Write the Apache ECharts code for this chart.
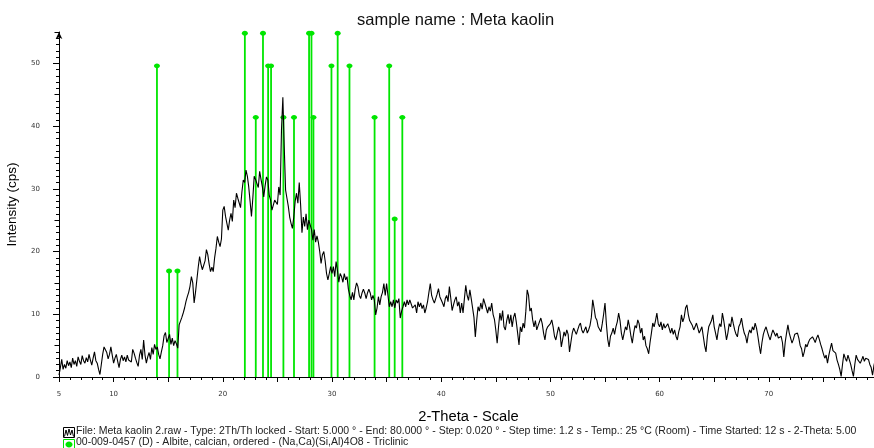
<!DOCTYPE html>
<html>
<head>
<meta charset="utf-8">
<script src="https://cdn.jsdelivr.net/npm/echarts@6/dist/echarts.min.js"></script>
<style>
html,body{margin:0;padding:0;background:#fff;}
#chart{width:874px;height:448px;}
</style>
</head>
<body>
<div id="chart"></div>
<script>
// ---- data ----
const titleText = 'sample name : Meta kaolin';
const xAxisName = '2-Theta - Scale';
const yAxisName = 'Intensity (cps)';
const fileLegend = 'File: Meta kaolin 2.raw - Type: 2Th/Th locked - Start: 5.000 ° - End: 80.000 ° - Step: 0.020 ° - Step time: 1.2 s - Temp.: 25 °C (Room) - Time Started: 12 s - 2-Theta: 5.00';
const refLegend = '00-009-0457 (D) - Albite, calcian, ordered - (Na,Ca)(Si,Al)4O8 - Triclinic';

const twoThetaStart = 5;
const twoThetaStep = 0.125;
// measured intensity (cps), 8 values per degree from 5 to 80 (one row per degree)
const intensity = [
  0.3, 1.5, 2.8, 1.2, 2.0, 1.4, 2.6, 1.8,        // 5
  2.4, 1.5, 3.0, 2.0, 2.6, 1.7, 3.2, 2.5,        // 6
  2.0, 3.4, 2.6, 2.2, 3.1, 2.4, 3.6, 2.7,        // 7
  1.9, 3.0, 4.0, 2.6, 2.2, 1.2, 0.4, 2.0,        // 8
  3.6, 4.8, 5.1, 3.9, 2.9, 3.6, 4.8, 3.5,        // 9
  2.2, 3.0, 3.6, 2.5, 1.5, 2.8, 3.5, 2.6,        // 10
  3.2, 2.4, 3.5, 2.7, 3.0, 2.4, 4.4, 3.8,        // 11
  3.0, 2.3, 1.7, 3.5, 4.4, 2.8, 5.9, 3.5,        // 12
  2.2, 3.2, 3.9, 2.8, 4.7, 3.6, 5.2, 4.4,        // 13
  4.8, 3.6, 2.9, 4.0, 5.0, 6.6, 7.1, 5.5,        // 14
  5.6, 6.8, 5.2, 6.2, 5.0, 5.8, 5.3, 4.6,        // 15
  8.3, 8.0, 9.5, 10.2, 11.0, 12.0, 12.8, 13.5,   // 16
  14.5, 16.0, 15.0, 11.8, 13.5, 15.5, 17.5, 19.2, // 17
  18.0, 17.1, 16.8, 18.5, 20.3, 19.5, 18.0, 16.8, // 18
  17.5, 16.8, 19.0, 20.5, 22.4, 21.5, 20.8, 22.0, // 19
  26.6, 27.2, 25.6, 24.5, 23.4, 25.0, 26.1, 24.8, // 20
  28.2, 27.0, 29.3, 28.5, 28.2, 27.0, 29.5, 31.4, // 21
  31.0, 33.0, 32.0, 30.3, 28.0, 25.6, 28.5, 32.0, // 22
  31.5, 31.4, 30.2, 32.8, 31.5, 30.3, 28.7, 30.5, // 23
  31.9, 31.4, 29.0, 28.2, 26.6, 26.4, 28.2, 28.0, // 24
  27.5, 30.3, 29.0, 39.4, 44.6, 36.8, 29.8, 28.5, // 25
  27.2, 25.5, 24.5, 23.7, 25.5, 28.0, 29.3, 27.7, // 26
  31.0, 27.5, 23.0, 25.5, 24.0, 26.0, 23.5, 25.0, // 27
  25.0, 23.5, 21.8, 23.5, 21.5, 22.5, 21.5, 20.0, // 28
  18.1, 19.5, 20.0, 18.5, 16.5, 15.5, 16.5, 17.6, // 29
  16.5, 17.6, 16.0, 18.4, 17.0, 15.1, 16.5, 16.0, // 30
  15.1, 16.5, 15.5, 16.0, 14.0, 13.0, 12.3, 13.5, // 31
  12.3, 14.0, 15.0, 14.4, 13.0, 12.5, 13.4, 14.0, // 32
  13.4, 12.5, 13.4, 14.0, 13.4, 12.3, 13.0, 12.3, // 33
  9.9, 11.0, 12.8, 11.5, 12.8, 13.5, 14.9, 13.0,  // 34
  14.9, 13.0, 11.2, 12.0, 11.2, 12.3, 11.0, 12.3, // 35
  11.8, 12.5, 9.4, 10.5, 11.2, 12.0, 11.2, 12.3,  // 36
  11.5, 12.3, 12.3, 11.0, 10.9, 11.5, 10.2, 12.0, // 37
  11.2, 11.8, 10.9, 11.5, 10.2, 11.0, 12.0, 13.5, // 38
  14.9, 13.0, 12.3, 11.8, 12.5, 13.2, 14.1, 12.8, // 39
  13.0, 11.8, 11.2, 12.5, 13.0, 12.0, 14.4, 12.6, // 40
  10.6, 11.5, 12.3, 12.8, 11.3, 12.0, 10.2, 11.8, // 41
  10.2, 12.5, 14.6, 13.0, 12.2, 13.9, 12.5, 11.0, // 42
  9.5, 6.4, 9.0, 11.2, 10.5, 11.8, 10.8, 12.5,    // 43
  12.5, 11.0, 10.2, 11.2, 10.5, 11.8, 10.0, 9.2,  // 44
  7.5, 5.4, 8.0, 10.2, 9.0, 10.6, 8.0, 7.5,       // 45
  9.0, 10.0, 8.5, 9.9, 8.0, 9.5, 10.2, 8.8,       // 46
  7.0, 5.1, 8.0, 7.2, 8.6, 7.8, 10.5, 13.9,       // 47
  13.0, 10.5, 11.0, 9.1, 8.0, 9.0, 7.5, 8.2,      // 48
  8.8, 9.4, 8.5, 7.0, 5.9, 7.5, 8.0, 7.8,         // 49
  8.5, 9.1, 8.0, 6.5, 5.9, 7.0, 8.0, 7.2,         // 50
  4.8, 6.0, 7.2, 6.5, 7.5, 6.8, 4.0, 5.5,         // 51
  7.0, 7.8, 8.0, 6.8, 7.5, 8.2, 8.6, 7.5,         // 52
  7.0, 7.2, 8.0, 7.0, 7.5, 8.2, 9.5, 12.3,        // 53
  11.0, 9.5, 9.1, 8.0, 7.8, 7.2, 8.5, 10.0,       // 54
  11.8, 8.5, 6.0, 4.8, 6.5, 7.0, 7.8, 6.8,        // 55
  8.0, 8.8, 10.2, 9.0, 7.0, 5.9, 7.0, 8.0,        // 56
  7.5, 9.1, 8.0, 6.5, 5.4, 7.0, 8.2, 7.8,         // 57
  9.1, 8.5, 7.0, 7.8, 5.9, 6.5, 5.0, 4.5,         // 58
  3.7, 5.5, 7.0, 8.6, 8.0, 9.0, 10.2, 8.5,        // 59
  8.0, 8.8, 7.5, 8.5, 7.8, 8.0, 8.5, 7.8,         // 60
  7.0, 7.8, 6.8, 7.5, 6.5, 5.9, 7.2, 8.0,         // 61
  9.9, 8.8, 9.5, 11.0, 11.5, 10.0, 9.0, 8.6,      // 62
  8.2, 7.5, 8.0, 8.6, 7.8, 7.0, 7.5, 8.0,         // 63
  6.5, 5.0, 4.0, 6.5, 8.0, 8.5, 9.0, 9.9,         // 64
  8.0, 7.0, 5.9, 7.5, 8.5, 8.0, 10.2, 9.0,        // 65
  7.5, 5.9, 7.0, 8.5, 8.0, 9.6, 8.5, 7.5,         // 66
  6.8, 6.4, 8.0, 8.5, 9.4, 8.0, 7.0, 6.5,         // 67
  5.4, 6.8, 7.5, 7.0, 8.0, 7.5, 8.6, 7.8,         // 68
  6.5, 5.0, 3.7, 5.5, 6.8, 7.5, 8.0, 7.2,         // 69
  6.5, 5.9, 6.8, 7.5, 7.0, 6.5, 7.0, 6.2,         // 70
  5.9, 6.5, 5.5, 3.2, 5.5, 7.0, 8.3, 7.0,         // 71
  6.2, 5.4, 6.0, 6.8, 6.5, 7.0, 6.2, 5.0,         // 72
  4.5, 3.2, 4.0, 5.2, 4.8, 5.5, 6.0, 5.8,         // 73
  6.4, 6.0, 5.5, 6.2, 6.7, 6.0, 5.2, 4.5,         // 74
  3.7, 3.0, 3.5, 2.2, 3.5, 4.5, 5.4, 4.2,         // 75
  4.5, 3.8, 2.7, 2.0, 1.2, 0.1, 2.0, 3.7,         // 76
  3.0, 2.5, 3.5, 3.2, 2.0, 1.0, 0.1, 2.0,         // 77
  3.5, 2.8, 3.0, 2.2, 2.7, 3.3, 2.5, 3.0,         // 78
  3.2, 2.8, 2.0, 1.5, 0.3, 1.8, 2.8, 2.2,         // 79
  2.0                                             // 80
];

// reference pattern 00-009-0457 stick positions (deg) and heights (cps)
const refAngles  = [13.97, 15.08, 15.85, 22.02, 23.02, 23.68, 24.15, 24.42, 25.55, 26.52,
                    27.9, 28.12, 28.3, 29.95, 30.52, 31.6, 33.9, 35.24, 35.74, 36.44];
const refHeights = [49.6, 16.9, 16.9, 54.8, 41.4, 54.8, 49.6, 49.6, 41.4, 41.4,
                    54.8, 54.8, 41.4, 49.6, 54.8, 49.6, 41.4, 49.6, 25.2, 41.4];

const xTickLabels = [5, 10, 20, 30, 40, 50, 60, 70, 80];
const yTickLabels = [0, 10, 20, 30, 40, 50];

// ---- chart ----
const green = '#00e600';
const font = 'Liberation Sans, Arial, sans-serif';
const curve = intensity.map((v, i) => [twoThetaStart + i * twoThetaStep, v]);
const sticks = refAngles.map((a, i) => [a, refHeights[i]]);

const chart = echarts.init(document.getElementById('chart'), null, {renderer: 'canvas'});

const tickStyle = {color: '#000', width: 1};
const option = {
  animation: false,
  backgroundColor: '#fff',
  title: {
    text: titleText, left: 357, top: 12, padding: 0,
    textStyle: {fontFamily: font, fontSize: 16.5, fontWeight: 'normal', color: '#111'}
  },
  grid: {left: 59, right: -4, top: 32, bottom: 71, containLabel: false, outerBoundsMode: 'none'},
  xAxis: [{
    type: 'value', min: 5, max: 80, interval: 5,
    axisLine: {lineStyle: tickStyle},
    axisTick: {length: 5, lineStyle: tickStyle},
    minorTick: {show: true, splitNumber: 5, length: 3, lineStyle: tickStyle},
    splitLine: {show: false},
    axisLabel: {
      fontFamily: 'DejaVu Sans, sans-serif', fontSize: 7, color: '#333', margin: 14,
      formatter: v => (xTickLabels.indexOf(v) >= 0 ? String(v) : '')
    },
    name: xAxisName, nameLocation: 'middle', nameGap: 32,
    nameTextStyle: {fontFamily: font, fontSize: 14.7, color: '#000'}
  }],
  yAxis: [{
    type: 'value', min: 0, max: 55, interval: 10,
    axisLine: {show: true, lineStyle: tickStyle, symbol: ['none', 'arrow'], symbolSize: [5, 7]},
    axisTick: {length: 6, lineStyle: tickStyle},
    splitLine: {show: false},
    axisLabel: {
      fontFamily: 'DejaVu Sans, sans-serif', fontSize: 7, color: '#333', margin: 19,
      showMaxLabel: false,
      formatter: v => (yTickLabels.indexOf(v) >= 0 ? String(v) : '')
    },
    name: yAxisName, nameLocation: 'middle', nameGap: 40, nameRotate: 90,
    nameTextStyle: {fontFamily: font, fontSize: 13.5, color: '#000'}
  }, {
    type: 'value', min: 0, max: 55, interval: 5, position: 'left',
    axisLine: {show: false}, axisLabel: {show: false}, splitLine: {show: false},
    axisTick: {show: true, length: 4.5, lineStyle: tickStyle}
  }, {
    type: 'value', min: 0, max: 55, interval: 1, position: 'left',
    axisLine: {show: false}, axisLabel: {show: false}, splitLine: {show: false},
    axisTick: {show: true, length: 3, lineStyle: tickStyle}
  }],
  series: [{
    name: refLegend,
    type: 'custom',
    data: sticks,
    encode: {x: 0, y: 1},
    z: 2,
    renderItem: function (params, api) {
      const p0 = api.coord([api.value(0), 0]);
      const p1 = api.coord([api.value(0), api.value(1)]);
      return {
        type: 'group',
        children: [
          {type: 'line', shape: {x1: p0[0], y1: p0[1], x2: p1[0], y2: p1[1]},
           style: {stroke: green, lineWidth: 1.8}},
          {type: 'ellipse', shape: {cx: p1[0], cy: p1[1], rx: 3, ry: 2.4},
           style: {fill: green}}
        ]
      };
    }
  }, {
    name: fileLegend,
    type: 'line',
    data: curve,
    showSymbol: false,
    z: 3,
    lineStyle: {color: '#000', width: 1.1},
    clip: true
  }],
  graphic: [
    {type: 'group', left: 61, top: 425, children: [
      {type: 'rect', shape: {x: 0.5, y: 0.5, width: 11, height: 10}, style: {fill: 'none', stroke: '#000', lineWidth: 1}},
      {type: 'polyline', shape: {points: [[1.5, 9.5], [3, 3], [4.5, 8.5], [6, 2], [7.5, 8], [9, 3], [10.5, 9.5]]},
       style: {fill: 'none', stroke: '#000', lineWidth: 1}}
    ]},
    {type: 'text', left: 76, top: 425.5, style: {text: fileLegend, fontFamily: font, fontSize: 10.5, fill: '#222'}},
    {type: 'group', left: 61, top: 437, children: [
      {type: 'rect', shape: {x: 0.5, y: 0.5, width: 11, height: 10}, style: {fill: 'none', stroke: green, lineWidth: 1}},
      {type: 'ellipse', shape: {cx: 6, cy: 5.5, rx: 3.5, ry: 3}, style: {fill: green}}
    ]},
    {type: 'text', left: 76, top: 437, style: {text: refLegend, fontFamily: font, fontSize: 10.5, fill: '#222'}}
  ]
};
chart.setOption(option);
</script>
</body>
</html>
